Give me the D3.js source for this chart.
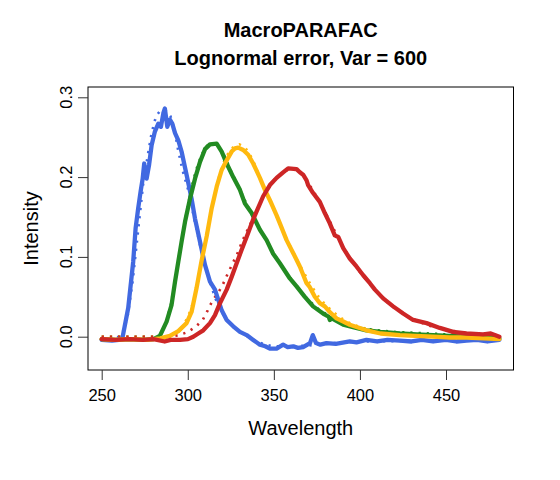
<!DOCTYPE html>
<html><head><meta charset="utf-8">
<script src="https://cdn.jsdelivr.net/npm/d3@7"></script>
<style>body{margin:0;background:#fff} text{font-family:"Liberation Sans",Arial,Helvetica,sans-serif;fill:#000}</style>
</head><body><svg id="c" width="560" height="480"></svg>
<script>
const titleLines = ["MacroPARAFAC", "Lognormal error, Var = 600"];
const xLabel = "Wavelength";
const yLabel = "Intensity";
const xTicks = [250, 300, 350, 400, 450];
const yTicks = [0, 0.1, 0.2, 0.3];
const yTickLabels = ["0.0", "0.1", "0.2", "0.3"];
const seriesColors = ["#4169E1", "#228B22", "#FFB90F", "#CD2626"];

// observed (noisy, solid) curves: [wavelength, intensity]
const blueObs = [[250,-0.004],[256,-0.005],[260,-0.004],[262,-0.002],[265.4,0.036],[268.3,0.094],[269.7,0.136],[271.2,0.161],[272.6,0.182],[273.8,0.198],[274.7,0.217],[276.1,0.198],[277.5,0.215],[279,0.24],[280.9,0.257],[282.9,0.267],[284.4,0.263],[285.8,0.28],[286.7,0.286],[288.1,0.263],[289.6,0.272],[291,0.267],[292.6,0.255],[294.5,0.246],[296.4,0.232],[299.3,0.203],[302.2,0.173],[304.2,0.148],[307.1,0.119],[310,0.09],[312.9,0.069],[315.8,0.059],[319.7,0.033],[322.6,0.021],[326.4,0.013],[330.3,0.006],[334.2,0.002],[338,-0.004],[341.9,-0.01],[345,-0.012],[347.7,-0.015],[351.6,-0.015],[355.4,-0.01],[358,-0.013],[361.2,-0.012],[364,-0.014],[367,-0.013],[371,-0.008],[372.6,0.002],[374.5,-0.008],[377,-0.01],[380.6,-0.008],[386,-0.009],[394.1,-0.006],[398,-0.007],[403.8,-0.004],[410,-0.006],[416,-0.004],[423.2,-0.005],[430,-0.006],[436,-0.004],[442.5,-0.006],[450,-0.004],[456,-0.006],[461.9,-0.005],[468,-0.004],[474,-0.006],[481,-0.004]];
const greenObs = [[250,-0.003],[258,-0.004],[266,-0.003],[274,-0.004],[280,-0.003],[283.8,0.001],[287.7,0.019],[290.6,0.04],[292.6,0.069],[294.5,0.094],[296.4,0.119],[298.4,0.144],[301.3,0.173],[304.2,0.198],[307.1,0.219],[310,0.235],[312.9,0.241],[316.8,0.242],[319.7,0.232],[322.6,0.217],[326.4,0.2],[330.3,0.184],[333.2,0.167],[337.1,0.155],[341.9,0.134],[345.8,0.121],[349.6,0.104],[353.5,0.092],[359.3,0.073],[363.2,0.063],[368,0.05],[372.8,0.038],[378.6,0.029],[381.9,0.025],[382.5,0.021],[383.7,0.023],[390.3,0.015],[396,0.012],[403.8,0.008],[412,0.006],[423.2,0.004],[433,0.003],[442.5,0.002],[452,0.001],[461.9,0],[472,-0.001],[481,-0.002]];
const yellowObs = [[250,-0.003],[258,-0.004],[266,-0.003],[276,-0.004],[284,-0.002],[289.6,0.001],[294.5,0.007],[299.3,0.017],[302.2,0.031],[305.1,0.061],[308,0.095],[311,0.126],[313.9,0.161],[316.8,0.188],[319.7,0.209],[322.6,0.221],[325.5,0.232],[327.4,0.236],[329.3,0.237],[332.2,0.234],[335.1,0.228],[338,0.217],[341.9,0.199],[344.8,0.184],[347.7,0.171],[351.6,0.152],[353.5,0.142],[357.4,0.121],[361.2,0.105],[365.1,0.088],[369,0.067],[370.9,0.062],[373.8,0.05],[376.7,0.042],[379.6,0.038],[382.5,0.031],[386.4,0.023],[390.3,0.019],[394.1,0.015],[403.8,0.008],[412,0.004],[423.2,0.002],[432,0.001],[442.5,0],[452,-0.001],[461.9,-0.001],[472,-0.002],[481,-0.003]];
const redObs = [[250,-0.003],[258,-0.004],[266.4,-0.003],[274,-0.004],[280,-0.003],[286.6,-0.006],[290,-0.004],[295.5,-0.004],[300.1,-0.003],[303.2,0],[306.1,0.004],[309,0.008],[312.9,0.017],[315.8,0.027],[318.7,0.042],[322.6,0.059],[325.5,0.075],[328.4,0.092],[331.3,0.109],[334.9,0.129],[337.8,0.146],[340,0.157],[343.8,0.176],[347.7,0.19],[351.6,0.199],[355.4,0.206],[358.3,0.211],[363.2,0.21],[365.1,0.206],[367,0.203],[369,0.196],[369.9,0.19],[372.8,0.18],[376.7,0.169],[379.6,0.155],[382.5,0.142],[385.4,0.127],[387.4,0.125],[390.3,0.111],[394.1,0.098],[398,0.088],[401.9,0.077],[405.8,0.067],[408.7,0.059],[413.5,0.048],[419.3,0.038],[425.1,0.029],[430.9,0.021],[438.7,0.017],[446.4,0.011],[454.1,0.006],[461.9,0.004],[471.5,0.003],[476,0.004],[481,0]];

// true (smooth, dotted) curves
const blueTrue = [[250,-0.003],[258,-0.003],[262,0.004],[265,0.025],[268,0.07],[271,0.13],[274,0.19],[276.9,0.229],[278.9,0.254],[280.5,0.268],[281.7,0.277],[284,0.283],[287,0.284],[290,0.276],[292.5,0.257],[294.3,0.235],[296.8,0.21],[298.5,0.197],[300.1,0.185],[302,0.167],[303.6,0.149],[304.9,0.137],[307,0.116],[309,0.1],[311,0.083],[313,0.068],[316,0.048],[320,0.03],[325,0.015],[330,0.006],[335,0],[340,-0.006],[345,-0.01],[350,-0.012],[360,-0.012],[370,-0.011],[385,-0.008],[400,-0.006],[440,-0.005],[481,-0.004]];
const greenTrue = [[250,0],[280,0],[284,0.002],[287,0.015],[290,0.038],[293,0.075],[296,0.115],[299,0.152],[302,0.185],[305,0.21],[308,0.228],[311,0.239],[314,0.243],[317,0.241],[320,0.232],[323,0.218],[326,0.203],[330,0.186],[334,0.167],[338,0.15],[342,0.134],[346,0.119],[350,0.104],[355,0.087],[360,0.072],[365,0.058],[370,0.046],[375,0.036],[380,0.029],[385,0.022],[390,0.017],[395,0.013],[400,0.011],[410,0.008],[420,0.006],[440,0.004],[460,0.002],[481,0.001]];
const yellowTrue = [[250,0],[288,0],[292,0.003],[296,0.01],[300,0.024],[303,0.042],[306,0.07],[309,0.105],[312,0.14],[315,0.172],[318,0.199],[321,0.219],[324,0.232],[327,0.239],[330,0.241],[333,0.238],[336,0.229],[339,0.215],[342,0.199],[345,0.183],[348,0.168],[352,0.149],[356,0.129],[360,0.111],[364,0.094],[368,0.078],[372,0.063],[376,0.05],[380,0.04],[385,0.03],[390,0.022],[395,0.016],[400,0.012],[410,0.007],[420,0.004],[440,0.002],[460,0.001],[481,0]];
const redTrue = [[250,0],[290,0],[295,0.002],[300.1,0.006],[304.9,0.013],[308.7,0.021],[311.6,0.033],[314.5,0.046],[317.4,0.054],[320.3,0.065],[323.2,0.079],[326.1,0.092],[329,0.105],[331.9,0.121],[335,0.135],[340,0.158],[345,0.18],[350,0.196],[355,0.206],[360,0.211],[365,0.207],[370,0.193],[375,0.175],[380,0.155],[385,0.134],[390,0.113],[395,0.096],[400,0.081],[405,0.068],[410,0.056],[415,0.045],[420,0.036],[425,0.029],[430,0.023],[435,0.018],[440,0.014],[450,0.009],[460,0.005],[470,0.003],[481,0.002]];

const obsSeries = [blueObs, greenObs, yellowObs, redObs];
const trueSeries = [blueTrue, greenTrue, yellowTrue, redTrue];

const box = {left: 88, right: 513.5, top: 87, bottom: 370};
const x = d3.scaleLinear().domain([250, 450]).range([101.7, 446]);
const y = d3.scaleLinear().domain([0, 0.3]).range([336.7, 97.3]);

const svg = d3.select("#c");
const line = d3.line().x(d => x(d[0])).y(d => y(d[1]));

const plot = svg.append("g");
trueSeries.forEach((s, i) => {
  plot.append("path").datum(s).attr("d", line)
    .attr("fill", "none").attr("stroke", seriesColors[i])
    .attr("stroke-width", 2.6).attr("stroke-dasharray", "2.2,6");
});
obsSeries.forEach((s, i) => {
  plot.append("path").datum(s).attr("d", line)
    .attr("fill", "none").attr("stroke", seriesColors[i])
    .attr("stroke-width", 4.3).attr("stroke-linejoin", "round").attr("stroke-linecap", "round");
});

svg.append("rect").attr("x", box.left).attr("y", box.top)
  .attr("width", box.right - box.left).attr("height", box.bottom - box.top)
  .attr("fill", "none").attr("stroke", "#000").attr("stroke-width", 1);

const xAxis = svg.append("g").attr("transform", `translate(0,${box.bottom})`)
  .call(d3.axisBottom(x).tickValues(xTicks).tickSize(10).tickPadding(9).tickFormat(d3.format("d")));
xAxis.select(".domain").remove();
xAxis.selectAll("line").attr("stroke", "#333");
xAxis.selectAll("text").attr("font-size", 16.5).attr("font-family", '"Liberation Sans",Arial,sans-serif').attr("fill", "#000");

const yAxis = svg.append("g").attr("transform", `translate(${box.left},0)`)
  .call(d3.axisLeft(y).tickValues(yTicks).tickSize(10).tickFormat(""));
yAxis.select(".domain").remove();
yAxis.selectAll("line").attr("stroke", "#333");
svg.append("g").selectAll("text").data(yTicks).join("text")
  .attr("transform", (d) => `translate(71.5,${y(d)}) rotate(-90)`)
  .attr("text-anchor", "middle").attr("font-size", 16.5)
  .text((d, i) => yTickLabels[i]);

svg.append("text").attr("x", (box.left + box.right) / 2).attr("y", 435)
  .attr("text-anchor", "middle").attr("font-size", 20).text(xLabel);
svg.append("text").attr("transform", `translate(38,${(box.top + box.bottom) / 2}) rotate(-90)`)
  .attr("text-anchor", "middle").attr("font-size", 20).text(yLabel);

titleLines.forEach((t, i) => {
  svg.append("text").attr("x", (box.left + box.right) / 2).attr("y", 37 + i * 28)
    .attr("text-anchor", "middle").attr("font-size", 20).attr("font-weight", "bold").text(t);
});
</script></body></html>
